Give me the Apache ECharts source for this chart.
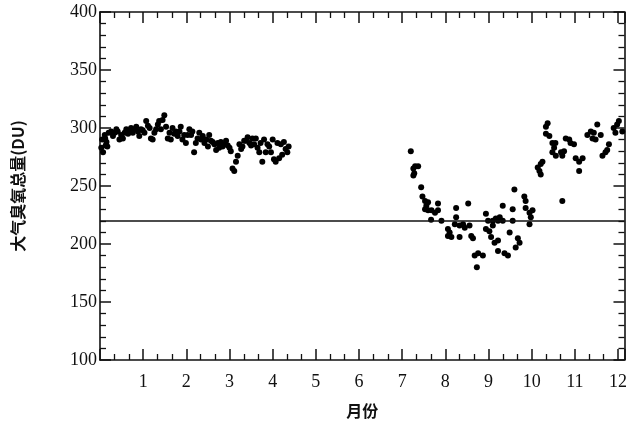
<!DOCTYPE html>
<html>
<head>
<meta charset="utf-8">
<script src="https://cdn.jsdelivr.net/npm/echarts@6/dist/echarts.min.js"></script>
<style>html,body{margin:0;padding:0;background:#fff}#c{width:630px;height:428px}</style>
</head>
<body>
<div id="c"></div>
<script>
// ---- data ----
const xAxisName = '月份';
const yAxisName = '大气臭氧总量(DU)';
const monthMin = 0, monthMax = 12.15;
const ozoneMin = 100, ozoneMax = 400, ozoneStep = 50;
const thresholdValue = 220;

// [month, ozone DU]
const janAprPoints = [
  [0.03,283],[0.05,290],[0.07,279],[0.11,294],[0.12,291],[0.15,288],[0.13,285],[0.17,284],[0.2,296],[0.26,297],
  [0.3,293],[0.34,296],[0.38,299],[0.41,297],[0.45,290],[0.49,294],[0.53,291],[0.57,296],[0.61,299],[0.65,295],
  [0.68,297],[0.72,300],[0.76,296],[0.8,299],[0.84,301],[0.88,297],[0.91,293],[0.95,299],[0.99,298],[1.03,296],
  [1.07,306],[1.11,302],[1.15,300],[1.18,291],[1.22,290],[1.26,296],[1.3,299],[1.34,303],[1.37,306],[1.41,299],
  [1.45,307],[1.49,311],[1.53,301],[1.57,291],[1.61,296],[1.64,290],[1.68,300],[1.72,295],[1.76,297],[1.8,293],
  [1.84,297],[1.87,301],[1.91,290],[1.95,294],[1.99,287],[2.03,294],[2.07,299],[2.11,294],[2.14,297],[2.18,279],
  [2.22,287],[2.26,291],[2.3,296],[2.34,290],[2.38,293],[2.42,287],[2.46,290],[2.5,284],[2.53,294],[2.57,289],
  [2.61,288],[2.65,286],[2.69,281],[2.73,287],[2.76,283],[2.8,288],[2.84,284],[2.88,286],[2.92,289],[2.96,285],
  [3.0,283],[3.03,280],[3.07,265],[3.11,263],[3.15,271],[3.19,276],[3.23,286],[3.27,282],[3.3,284],[3.34,289],
  [3.38,289],[3.42,292],[3.46,287],[3.5,285],[3.53,291],[3.57,286],[3.61,291],[3.65,283],[3.69,279],[3.72,287],
  [3.76,271],[3.8,290],[3.84,279],[3.88,286],[3.92,284],[3.96,279],[4.0,290],[4.03,273],[4.07,271],[4.11,287],
  [4.15,274],[4.19,286],[4.22,277],[4.26,288],[4.3,282],[4.34,279],[4.37,284]
];
const julOctPoints = [
  [7.2,280],[7.26,265],[7.3,267],[7.37,267],[7.28,261],[7.26,259],[7.44,249],[7.47,241],[7.53,237],[7.6,236],
  [7.56,233],[7.53,230],[7.6,229],[7.68,229],[7.76,227],[7.83,229],[7.83,235],[7.67,221],[7.91,220],[8.06,213],
  [8.1,210],[8.06,207],[8.14,206],[8.22,217],[8.25,223],[8.25,231],[8.33,216],[8.33,206],[8.41,217],[8.45,214],
  [8.56,216],[8.53,235],[8.6,207],[8.64,205],[8.68,190],[8.76,192],[8.87,190],[8.73,180],[8.94,226],[8.99,220],
  [8.94,213],[9.02,211],[9.1,216],[9.06,206],[9.22,203],[9.14,201],[9.1,220],[9.17,222],[9.22,220],[9.26,223],
  [9.33,233],[9.33,220],[9.22,194],[9.37,192],[9.45,190],[9.49,210],[9.56,230],[9.6,247],[9.56,220],[9.63,197],
  [9.72,201],[9.68,205],[9.83,241],[9.86,237],[9.86,231],[9.95,227],[9.98,223],[9.95,217],[10.02,229]
];
const octDecPoints = [
  [10.14,266],[10.18,263],[10.21,269],[10.25,271],[10.21,260],[10.37,304],[10.33,301],[10.33,295],[10.41,293],[10.48,287],
  [10.55,287],[10.52,283],[10.48,279],[10.56,276],[10.68,279],[10.71,276],[10.75,280],[10.79,291],[10.87,290],[10.9,287],
  [10.98,286],[11.02,274],[11.1,271],[11.18,274],[11.1,263],[10.71,237],[11.29,294],[11.37,297],[11.44,296],[11.41,291],
  [11.48,290],[11.52,303],[11.6,294],[11.79,286],[11.75,281],[11.71,279],[11.64,276],[11.9,300],[11.98,303],[12.02,306],
  [12.1,297],[11.94,296]
];

// ---- chart ----
const ink = '#111';
const serif = '"Liberation Serif", "DejaVu Serif", serif';
const cjk = '"Noto Sans CJK SC", sans-serif';

const lineStyleAxis = {show: true, onZero: false, lineStyle: {color: ink, width: 1.6}};
const tickStyle = {show: true, inside: true, length: 11, lineStyle: {color: ink, width: 1.5}};
const minorX = {show: true, splitNumber: 3, length: 6, lineStyle: {color: ink, width: 1.3}};
const minorY = {show: true, splitNumber: 5, length: 6, lineStyle: {color: ink, width: 1.3}};
const markerStyle = {color: '#000', opacity: 1};

const chart = echarts.init(document.getElementById('c'), null, {renderer: 'canvas'});
chart.setOption({
  backgroundColor: '#fff',
  animation: false,
  grid: {left: 100, right: 3, top: 12, bottom: 68},
  xAxis: [
    {
      type: 'value', min: monthMin, max: monthMax, interval: 1, position: 'bottom',
      axisLine: lineStyleAxis, axisTick: tickStyle, minorTick: minorX, splitLine: {show: false},
      axisLabel: {
        formatter: v => (Number.isInteger(v) && v >= 1 && v <= 12) ? String(v) : '',
        fontFamily: serif, fontSize: 18, color: ink, margin: 13, showMaxLabel: true
      },
      name: xAxisName, nameLocation: 'middle', nameGap: 43,
      nameTextStyle: {fontFamily: cjk, fontSize: 16, color: ink, fontWeight: 'bold'}
    },
    {
      type: 'value', min: monthMin, max: monthMax, interval: 1, position: 'top',
      axisLine: lineStyleAxis, axisTick: tickStyle, minorTick: minorX, splitLine: {show: false},
      axisLabel: {show: false}
    }
  ],
  yAxis: [
    {
      type: 'value', min: ozoneMin, max: ozoneMax, interval: ozoneStep, position: 'left',
      axisLine: lineStyleAxis, axisTick: tickStyle, minorTick: minorY, splitLine: {show: false},
      axisLabel: {fontFamily: serif, fontSize: 18, color: ink, margin: 3},
      name: yAxisName, nameLocation: 'middle', nameGap: 74, nameRotate: 90,
      nameTextStyle: {fontFamily: cjk, fontSize: 16, color: ink, fontWeight: 'bold'}
    },
    {
      type: 'value', min: ozoneMin, max: ozoneMax, interval: ozoneStep, position: 'right',
      axisLine: lineStyleAxis, axisTick: tickStyle, minorTick: minorY, splitLine: {show: false},
      axisLabel: {show: false}
    }
  ],
  series: [
    {type: 'scatter', name: '1-4月', data: janAprPoints, symbol: 'circle', symbolSize: 6,
     itemStyle: markerStyle, silent: true,
     markLine: {silent: true, symbol: 'none', label: {show: false},
       lineStyle: {color: ink, width: 1.6, type: 'solid'},
       data: [{yAxis: thresholdValue}]}},
    {type: 'scatter', name: '7-10月', data: julOctPoints, symbol: 'circle', symbolSize: 6,
     itemStyle: markerStyle, silent: true},
    {type: 'scatter', name: '10-12月', data: octDecPoints, symbol: 'circle', symbolSize: 6,
     itemStyle: markerStyle, silent: true}
  ]
});
</script>
</body>
</html>
